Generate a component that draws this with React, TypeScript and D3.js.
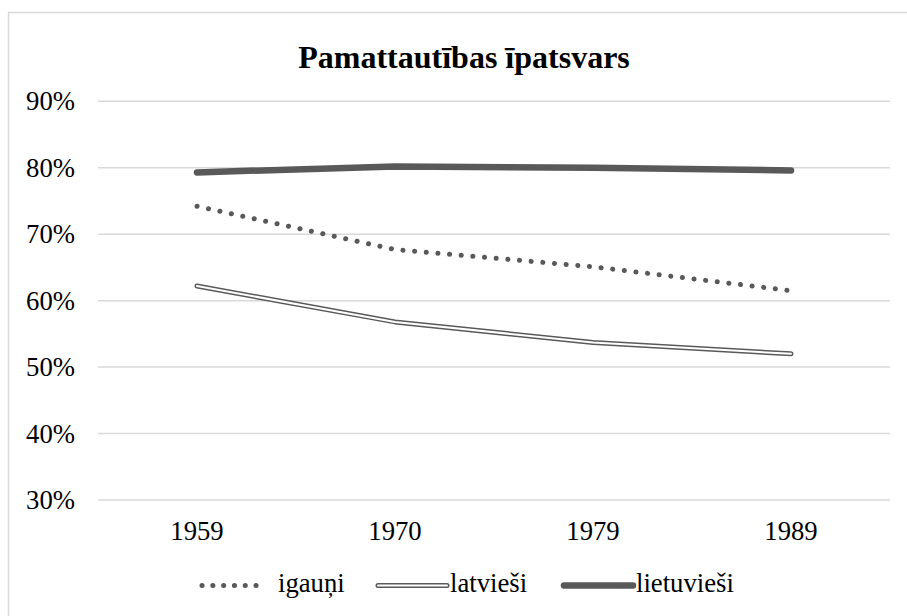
import React from "react";
import * as d3 from "d3";

const years = ["1959", "1970", "1979", "1989"];
const igauni = [0.742, 0.677, 0.651, 0.615];
const latviesi = [0.622, 0.568, 0.537, 0.520];
const lietuviesi = [0.793, 0.802, 0.800, 0.796];
const yTicks = [0.3, 0.4, 0.5, 0.6, 0.7, 0.8, 0.9];
const title = "Pamattautības īpatsvars";

const W = 907;
const H = 616;
const margin = { left: 98, right: 17, top: 101.3, bottom: 116 };
const font = "Liberation Serif, Times New Roman, serif";
const dark = "#595959";
const txt = { fontFamily: font };

export default function App() {
  const x = d3
    .scalePoint<string>()
    .domain(years)
    .range([margin.left, W - margin.right])
    .padding(0.5);
  const y = d3
    .scaleLinear()
    .domain([0.3, 0.9])
    .range([H - margin.bottom, margin.top]);

  const line = d3
    .line<number>()
    .x((_, i) => x(years[i]) as number)
    .y((d) => y(d));

  const fmt = d3.format(".0%");

  return (
    <svg
      width={W}
      height={H}
      style={{ position: "absolute", left: 0, top: 0 }}
    >
      <rect x={0} y={0} width={W} height={H} fill="#fff" />
      <rect
        x={8.5}
        y={12.5}
        width={W + 20}
        height={H + 20}
        fill="none"
        stroke="#d9d9d9"
        strokeWidth={1.5}
      />
      <text
        x={464}
        y={68}
        textAnchor="middle"
        fontSize={32}
        fontWeight="bold"
        fill="#000"
        style={txt}
      >
        {title}
      </text>

      {yTicks.map((t) => (
        <g key={t}>
          <line
            x1={margin.left}
            x2={W - margin.right}
            y1={y(t)}
            y2={y(t)}
            stroke="#d9d9d9"
            strokeWidth={1.5}
          />
          <text
            x={75}
            y={y(t) + 9}
            textAnchor="end"
            fontSize={26.7}
            fill="#000"
            style={txt}
          >
            {fmt(t)}
          </text>
        </g>
      ))}

      {years.map((yr) => (
        <text
          key={yr}
          x={x(yr)}
          y={540}
          textAnchor="middle"
          fontSize={26.7}
          fill="#000"
          style={txt}
        >
          {yr}
        </text>
      ))}

      <path
        d={line(lietuviesi) || ""}
        fill="none"
        stroke={dark}
        strokeWidth={6.5}
        strokeLinecap="round"
        strokeLinejoin="round"
      />
      <path
        d={line(igauni) || ""}
        fill="none"
        stroke={dark}
        strokeWidth={5}
        strokeDasharray="0.1 11.6"
        strokeLinecap="round"
      />
      <path
        d={line(latviesi) || ""}
        fill="none"
        stroke={dark}
        strokeWidth={5}
        strokeLinecap="round"
        strokeLinejoin="round"
      />
      <path
        d={line(latviesi) || ""}
        fill="none"
        stroke="#fff"
        strokeWidth={2}
        strokeLinecap="round"
        strokeLinejoin="round"
      />

      <g>
        <line
          x1={202}
          x2={266}
          y1={585.5}
          y2={585.5}
          stroke={dark}
          strokeWidth={5}
          strokeDasharray="0.1 10.7"
          strokeLinecap="round"
        />
        <text x={278} y={592} fontSize={26.7} fill="#000" style={txt}>
          igauņi
        </text>
        <line x1={378} x2={447} y1={585.5} y2={585.5} stroke={dark} strokeWidth={5} strokeLinecap="round" />
        <line x1={378} x2={447} y1={585.5} y2={585.5} stroke="#fff" strokeWidth={2} strokeLinecap="round" />
        <text x={450} y={592} fontSize={26.7} fill="#000" style={txt}>
          latvieši
        </text>
        <line x1={564} x2={633} y1={585.5} y2={585.5} stroke={dark} strokeWidth={6.5} strokeLinecap="round" />
        <text x={636} y={592} fontSize={26.7} fill="#000" style={txt}>
          lietuvieši
        </text>
      </g>
    </svg>
  );
}
